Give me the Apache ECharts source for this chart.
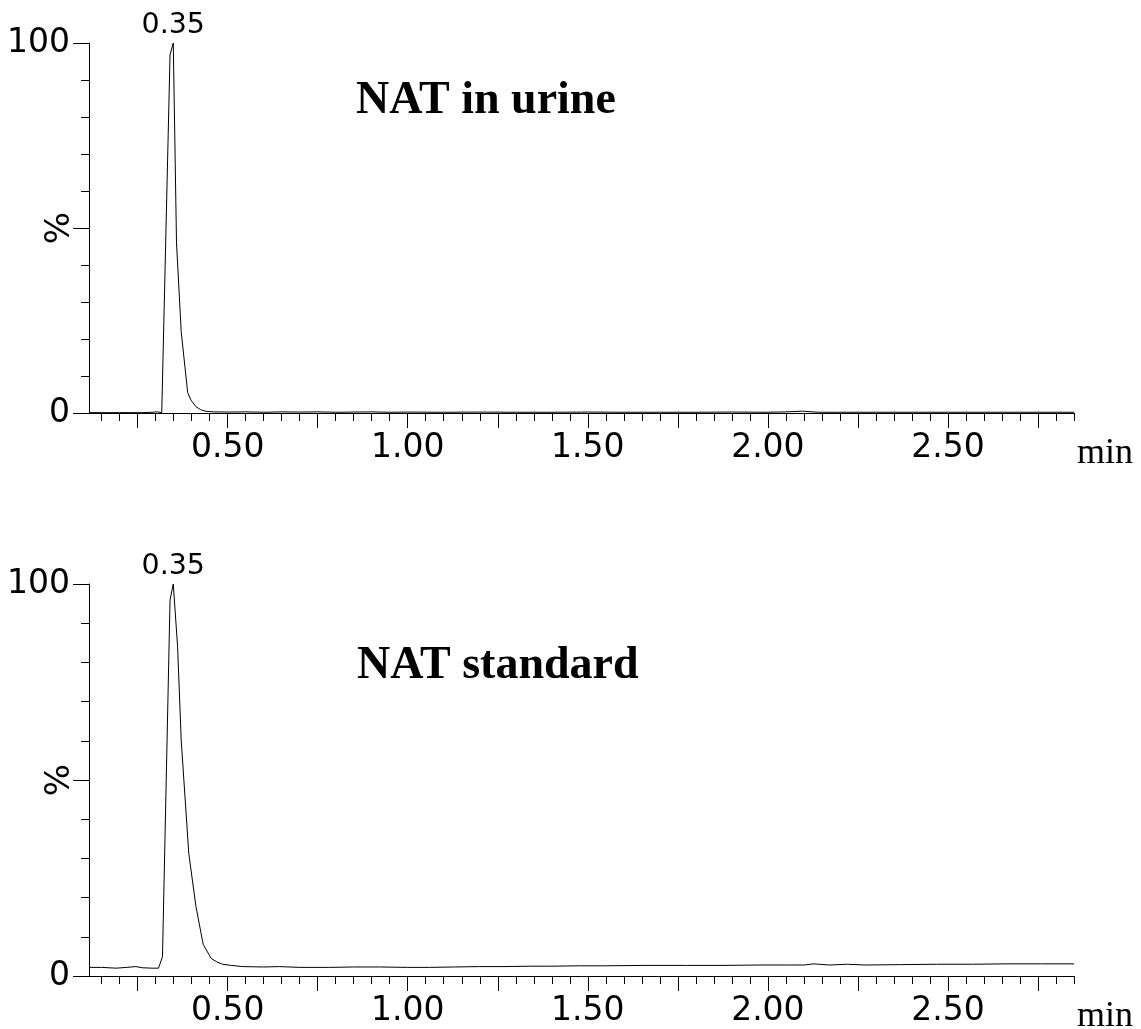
<!DOCTYPE html>
<html>
<head>
<meta charset="utf-8">
<script src="https://cdn.jsdelivr.net/npm/echarts@6/dist/echarts.min.js"></script>
<style>
  html, body { margin: 0; padding: 0; background: #fff; }
  #chart { width: 1141px; height: 1029px; }
</style>
</head>
<body>
<div id="chart"></div>
<script>
// ---- Data (retention time in min, relative intensity in %) ----
const urineTime = [0.115, 0.14, 0.17, 0.20, 0.23, 0.26, 0.29, 0.305, 0.317, 0.340, 0.349, 0.358, 0.371, 0.389, 0.398, 0.412, 0.425, 0.440, 0.46, 0.48, 0.50, 0.55, 0.60, 0.65, 0.70, 0.75, 0.80, 0.85, 0.90, 0.95, 1.00, 1.10, 1.20, 1.30, 1.40, 1.50, 1.60, 1.70, 1.80, 1.90, 2.00, 2.05, 2.096, 2.14, 2.20, 2.30, 2.40, 2.50, 2.60, 2.70, 2.80, 2.85];
const urineValue = [0.1, 0.1, 0.1, 0.1, 0.1, 0.1, 0.2, 0.3, 0.1, 96.8, 100, 46, 22, 5.5, 3.5, 1.7, 0.9, 0.45, 0.3, 0.3, 0.25, 0.3, 0.2, 0.3, 0.25, 0.3, 0.2, 0.25, 0.3, 0.2, 0.25, 0.2, 0.25, 0.2, 0.2, 0.25, 0.2, 0.2, 0.2, 0.25, 0.2, 0.3, 0.5, 0.2, 0.2, 0.2, 0.2, 0.2, 0.2, 0.2, 0.2, 0.2];

const standardTime = [0.115, 0.15, 0.19, 0.22, 0.245, 0.264, 0.29, 0.308, 0.319, 0.340, 0.349, 0.361, 0.371, 0.392, 0.412, 0.432, 0.454, 0.470, 0.486, 0.51, 0.542, 0.60, 0.644, 0.70, 0.783, 0.85, 0.921, 1.00, 1.06, 1.13, 1.199, 1.27, 1.338, 1.40, 1.477, 1.55, 1.65, 1.774, 1.87, 1.973, 2.05, 2.10, 2.127, 2.171, 2.221, 2.27, 2.368, 2.468, 2.568, 2.667, 2.76, 2.85];
const standardValue = [2.2, 2.2, 2.0, 2.2, 2.4, 2.1, 2.0, 2.0, 4.9, 95.9, 100, 84, 60.2, 31.3, 17.7, 8.1, 4.5, 3.6, 3.0, 2.7, 2.4, 2.3, 2.4, 2.2, 2.2, 2.3, 2.3, 2.2, 2.2, 2.3, 2.4, 2.4, 2.5, 2.5, 2.6, 2.6, 2.7, 2.7, 2.7, 2.8, 2.8, 2.8, 3.1, 2.8, 3.0, 2.8, 2.9, 3.0, 3.0, 3.1, 3.1, 3.1];

const panelTitles = ['NAT in urine', 'NAT standard'];
const xLabelValues = [0.50, 1.00, 1.50, 2.00, 2.50];
const xMajorTickValues = [0.25, 0.50, 0.75, 1.00, 1.25, 1.50, 1.75, 2.00, 2.25, 2.50, 2.75];
const yLabelValues = [0, 100];
const yMajorTickValues = [0, 50, 100];
const xUnit = 'min';
const yUnit = '%';

// ---- Build ----
const X_MIN = 0.115, X_MAX = 2.85;
const xMinorTickValues = [];
for (let k = 3; k <= 57; k++) xMinorTickValues.push(+(k * 0.05).toFixed(2));
const yMinorTickValues = [];
for (let k = 0; k <= 10; k++) yMinorTickValues.push(k * 10);

const sansFont = 'DejaVu Sans';

function peakOf(times, values) {
  let peak = 0;
  values.forEach((v, i) => { if (v > values[peak]) peak = i; });
  return { t: times[peak], v: values[peak] };
}

const grids = [
  { left: 89, top: 43, width: 985, height: 370, outerBoundsMode: 'none', containLabel: false },
  { left: 89, top: 584, width: 985, height: 392, outerBoundsMode: 'none', containLabel: false }
];

const xAxes = [], yAxes = [];
grids.forEach((g, gi) => {
  xAxes.push({
    type: 'value', gridIndex: gi, min: X_MIN, max: X_MAX,
    axisLine: { show: true, onZero: false, lineStyle: { color: '#000', width: 1 } },
    axisTick: { show: true, length: 8, lineStyle: { color: '#000', width: 1 }, customValues: xMinorTickValues },
    axisLabel: {
      show: true, customValues: xLabelValues, margin: 19,
      formatter: v => v.toFixed(2),
      fontFamily: sansFont, fontSize: 33, color: '#000'
    },
    splitLine: { show: false }
  });
  xAxes.push({
    type: 'value', gridIndex: gi, min: X_MIN, max: X_MAX, position: 'bottom',
    axisLine: { show: false, onZero: false },
    axisTick: { show: true, length: 15, lineStyle: { color: '#000', width: 1 }, customValues: xMajorTickValues },
    axisLabel: { show: false },
    splitLine: { show: false }
  });
  yAxes.push({
    type: 'value', gridIndex: gi, min: 0, max: 100, position: 'left',
    axisLine: { show: true, lineStyle: { color: '#000', width: 1 } },
    axisTick: { show: true, length: 8, lineStyle: { color: '#000', width: 1 }, customValues: yMinorTickValues },
    axisLabel: {
      show: true, customValues: yLabelValues, margin: 19,
      fontFamily: sansFont, fontSize: 33, color: '#000'
    },
    splitLine: { show: false }
  });
  yAxes.push({
    type: 'value', gridIndex: gi, min: 0, max: 100, position: 'left',
    axisLine: { show: false },
    axisTick: { show: true, length: 16, lineStyle: { color: '#000', width: 1 }, customValues: yMajorTickValues },
    axisLabel: { show: false },
    splitLine: { show: false }
  });
});

const lineStyle = { color: '#000', width: 1 };

function makeSeries(times, values, xi, yi) {
  const p = peakOf(times, values);
  return {
    type: 'line', xAxisIndex: xi, yAxisIndex: yi,
    data: times.map((t, i) => [t, values[i]]),
    showSymbol: false, symbol: 'none', lineStyle: lineStyle, clip: false,
    markPoint: {
      symbol: 'circle', symbolSize: 0, silent: true,
      itemStyle: { color: 'rgba(0,0,0,0)' },
      label: {
        show: true, position: 'top', distance: 3,
        formatter: p.t.toFixed(2),
        fontFamily: sansFont, fontSize: 28.5, color: '#000'
      },
      data: [{ coord: [p.t, p.v] }]
    }
  };
}

const option = {
  backgroundColor: '#fff',
  animation: false,
  grid: grids,
  xAxis: xAxes,
  yAxis: yAxes,
  series: [
    makeSeries(urineTime, urineValue, 0, 0),
    makeSeries(standardTime, standardValue, 2, 2)
  ],
  graphic: [
    { type: 'text', left: 356, top: 78, style: { text: panelTitles[0], font: 'bold 46px "Liberation Serif"', fill: '#000' } },
    { type: 'text', left: 357, top: 643, style: { text: panelTitles[1], font: 'bold 46px "Liberation Serif"', fill: '#000' } },
    { type: 'text', left: 1077, top: 436, style: { text: xUnit, font: '36px "Liberation Serif"', fill: '#000' } },
    { type: 'text', left: 1077, top: 999, style: { text: xUnit, font: '36px "Liberation Serif"', fill: '#000' } },
    { type: 'text', x: 60, y: 228, rotation: Math.PI / 2,
      style: { text: yUnit, font: '34px "DejaVu Sans"', fill: '#000', textAlign: 'center', textVerticalAlign: 'middle' } },
    { type: 'text', x: 60, y: 780, rotation: Math.PI / 2,
      style: { text: yUnit, font: '34px "DejaVu Sans"', fill: '#000', textAlign: 'center', textVerticalAlign: 'middle' } }
  ]
};

const chart = echarts.init(document.getElementById('chart'), null, { renderer: 'canvas' });
chart.setOption(option);
</script>
</body>
</html>
